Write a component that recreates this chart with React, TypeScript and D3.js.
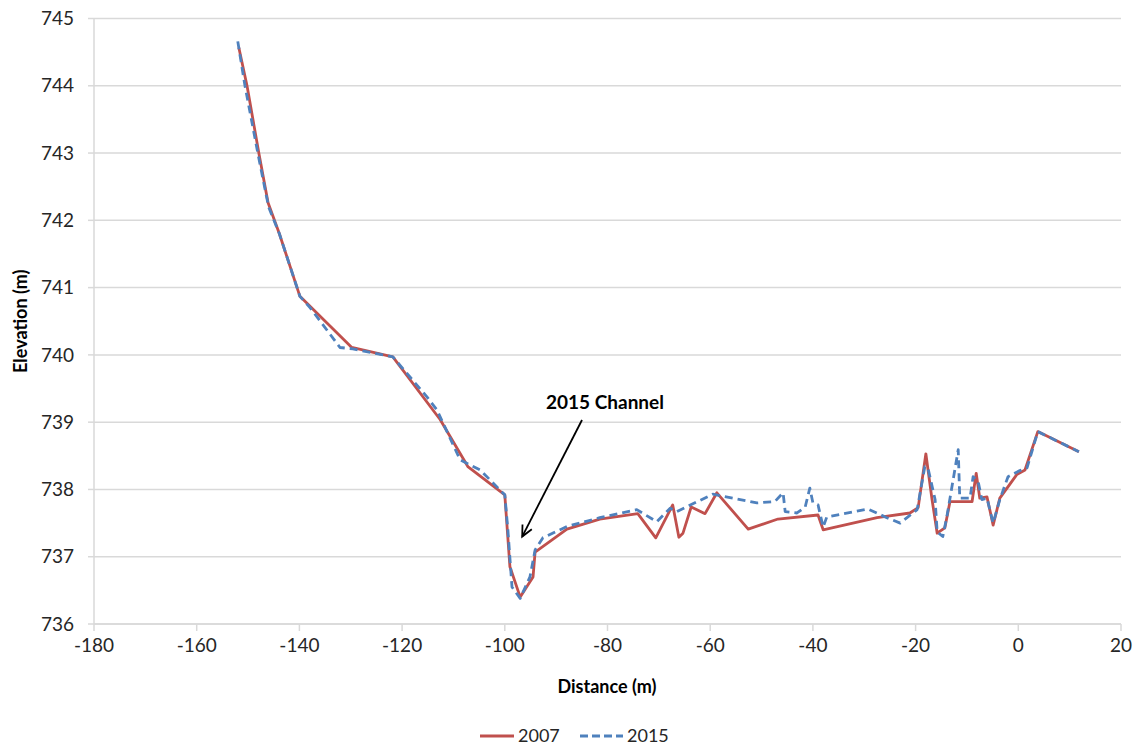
import React from "react";
import * as d3 from "d3";

const x2007 = [-151.8, -150.2, -147.9, -146.1, -143.9, -139.9, -129.8, -121.8, -112.6, -107.2, -100.0, -99.0, -97.0, -94.5, -94.1, -87.9, -81.5, -74.1, -70.6, -67.3, -66.1, -65.3, -63.7, -61.0, -58.7, -52.6, -46.8, -39.0, -38.0, -27.5, -21.1, -19.5, -18.0, -16.8, -15.8, -14.3, -13.3, -9.0, -8.2, -7.5, -6.1, -4.9, -3.6, -0.3, 1.3, 3.8, 11.8];
const y2007 = [744.57, 744.0, 743.0, 742.26, 741.8, 740.87, 740.11, 739.97, 739.04, 738.34, 737.92, 736.85, 736.40, 736.70, 737.07, 737.41, 737.56, 737.64, 737.28, 737.77, 737.29, 737.35, 737.74, 737.64, 737.95, 737.41, 737.56, 737.62, 737.40, 737.58, 737.65, 737.73, 738.53, 737.85, 737.35, 737.43, 737.82, 737.82, 738.24, 737.87, 737.89, 737.47, 737.87, 738.22, 738.29, 738.86, 738.56];

const x2015 = [-152.0, -150.6, -148.1, -146.0, -143.9, -139.9, -137.9, -132.1, -129.6, -121.8, -115.2, -113.2, -108.7, -104.8, -100.0, -99.4, -98.6, -97.0, -95.1, -94.1, -92.6, -87.9, -81.5, -74.3, -70.4, -67.8, -66.5, -59.5, -50.9, -47.4, -45.8, -45.4, -43.1, -41.5, -40.6, -40.0, -39.0, -38.0, -37.3, -29.3, -25.6, -23.0, -19.7, -18.2, -17.6, -16.2, -15.8, -14.7, -13.9, -11.7, -11.4, -9.4, -8.8, -7.8, -7.1, -6.1, -4.9, -3.6, -2.0, 0.3, 1.7, 3.8, 11.8];
const y2015 = [744.66, 744.0, 743.0, 742.2, 741.8, 740.87, 740.70, 740.11, 740.09, 739.97, 739.38, 739.18, 738.44, 738.29, 737.92, 737.4, 736.55, 736.38, 736.70, 737.1, 737.28, 737.45, 737.58, 737.70, 737.52, 737.72, 737.67, 737.93, 737.80, 737.82, 737.95, 737.67, 737.65, 737.74, 738.02, 737.80, 737.77, 737.44, 737.59, 737.71, 737.58, 737.50, 737.70, 738.34, 738.32, 737.85, 737.37, 737.30, 737.60, 738.59, 737.87, 737.87, 738.19, 738.11, 737.85, 737.87, 737.50, 737.85, 738.19, 738.28, 738.32, 738.86, 738.56];

const xTicks = [-180, -160, -140, -120, -100, -80, -60, -40, -20, 0, 20];
const yTicks = [736, 737, 738, 739, 740, 741, 742, 743, 744, 745];
const seriesNames = ["2007", "2015"];
const annotation = { text: "2015 Channel", x: -97.0, y: 737.3 };

const W = 1139;
const H = 746;
const FONT = "Lato, 'Open Sans', sans-serif";
const RED = "#C0504D";
const BLUE = "#4F81BD";

export default function App() {
  const x = d3.scaleLinear().domain([-180, 20]).range([94, 1121]);
  const y = d3.scaleLinear().domain([736, 745]).range([624, 18.5]);
  const line = d3
    .line<[number, number]>()
    .x((d) => x(d[0]))
    .y((d) => y(d[1]));
  const d07 = x2007.map((v, i) => [v, y2007[i]] as [number, number]);
  const d15 = x2015.map((v, i) => [v, y2015[i]] as [number, number]);

  const ax = x(annotation.x) + 2;
  const ay = y(annotation.y);
  const sx = 582;
  const sy = 420;
  const ang = Math.atan2(ay - sy, ax - sx);
  const hl = 12;
  const hw = 0.45;
  const h1 = [ax - hl * Math.cos(ang - hw), ay - hl * Math.sin(ang - hw)];
  const h2 = [ax - hl * Math.cos(ang + hw), ay - hl * Math.sin(ang + hw)];

  return (
    <svg
      width={W}
      height={H}
      style={{ position: "absolute", left: 0, top: 0, background: "#fff" }}
      fontFamily={FONT}
    >
      {/* gridlines */}
      {yTicks.map((t) => (
        <line key={"g" + t} x1={94} x2={1121} y1={y(t)} y2={y(t)} stroke="#D9D9D9" strokeWidth={1.5} />
      ))}
      {/* y axis */}
      <line x1={94} x2={94} y1={y(745)} y2={y(736)} stroke="#D9D9D9" strokeWidth={1.5} />
      {yTicks.map((t) => (
        <g key={"yt" + t}>
          <line x1={88} x2={94} y1={y(t)} y2={y(t)} stroke="#D9D9D9" strokeWidth={1.5} />
          <text x={74} y={y(t)} dy="0.35em" textAnchor="end" fontSize={19} fill="#262626">
            {t}
          </text>
        </g>
      ))}
      {/* x axis */}
      <line x1={94} x2={1121} y1={y(736)} y2={y(736)} stroke="#D9D9D9" strokeWidth={1.5} />
      {xTicks.map((t) => (
        <g key={"xt" + t}>
          <line x1={x(t)} x2={x(t)} y1={y(736)} y2={y(736) + 7} stroke="#D9D9D9" strokeWidth={1.5} />
          <text x={x(t)} y={652} textAnchor="middle" fontSize={19} fill="#262626">
            {t}
          </text>
        </g>
      ))}
      <text x={607} y={693} textAnchor="middle" fontSize={18} fontWeight="bold" fill="#000">
        Distance (m)
      </text>
      <text
        transform={`translate(27, ${y(740.5)}) rotate(-90)`}
        textAnchor="middle"
        fontSize={18}
        fontWeight="bold"
        fill="#000"
      >
        Elevation (m)
      </text>

      {/* series */}
      <path d={line(d07) || ""} fill="none" stroke={RED} strokeWidth={2.8} strokeLinejoin="round" />
      <path d={line(d15) || ""} fill="none" stroke={BLUE} strokeWidth={2.8} strokeDasharray="8 5" strokeLinejoin="round" />

      {/* annotation */}
      <text x={605} y={409} textAnchor="middle" fontSize={19} fontWeight="bold" fill="#000">
        {annotation.text}
      </text>
      <line x1={sx} y1={sy} x2={ax} y2={ay} stroke="#000" strokeWidth={1.8} />
      <polyline points={`${h1[0]},${h1[1]} ${ax},${ay} ${h2[0]},${h2[1]}`} fill="none" stroke="#000" strokeWidth={1.8} />

      {/* legend */}
      <line x1={480} x2={514} y1={736} y2={736} stroke={RED} strokeWidth={2.8} />
      <text x={518} y={736} dy="0.35em" fontSize={18} fill="#262626">{seriesNames[0]}</text>
      <line x1={580} x2={623} y1={736} y2={736} stroke={BLUE} strokeWidth={2.8} strokeDasharray="8 4" />
      <text x={627} y={736} dy="0.35em" fontSize={18} fill="#262626">{seriesNames[1]}</text>
    </svg>
  );
}
